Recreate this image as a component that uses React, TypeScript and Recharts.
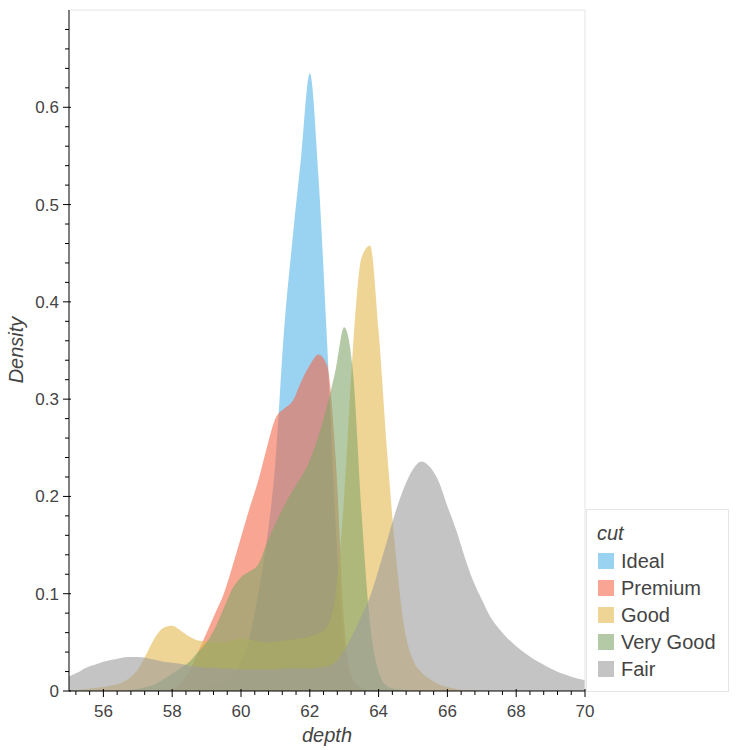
import React from "react";
import {
  ComposedChart,
  Area,
  XAxis,
  YAxis,
  ReferenceLine,
} from "recharts";

// depth grid (x) and KDE density per cut
const depth = [
  55, 55.25, 55.5, 55.75, 56, 56.25, 56.5, 56.75, 57, 57.25, 57.5, 57.75,
  58, 58.25, 58.5, 58.75, 59, 59.25, 59.5, 59.75, 60, 60.25, 60.5, 60.75,
  61, 61.25, 61.5, 61.75, 62, 62.25, 62.5, 62.75, 63, 63.25, 63.5, 63.75,
  64, 64.25, 64.5, 64.75, 65, 65.25, 65.5, 65.75, 66, 66.25, 66.5, 66.75,
  67, 67.25, 67.5, 67.75, 68, 68.25, 68.5, 68.75, 69, 69.25, 69.5, 69.75, 70,
];

const ideal = [
  0, 0, 0, 0, 0, 0, 0, 0, 0, 0, 0, 0,
  0, 0.001, 0.001, 0.002, 0.004, 0.006, 0.009, 0.014, 0.03, 0.055, 0.1, 0.155,
  0.235, 0.37, 0.465, 0.55, 0.635, 0.53, 0.36, 0.17, 0.045, 0.01, 0.003, 0.001,
  0, 0, 0, 0, 0, 0, 0, 0, 0, 0, 0, 0,
  0, 0, 0, 0, 0, 0, 0, 0, 0, 0, 0, 0, 0,
];

const premium = [
  0, 0, 0, 0, 0, 0, 0, 0, 0, 0, 0, 0,
  0.002, 0.008, 0.02, 0.04, 0.06, 0.08, 0.1, 0.128, 0.158, 0.188, 0.216, 0.25,
  0.28, 0.29, 0.298, 0.318, 0.335, 0.346, 0.335, 0.24, 0.07, 0.012, 0.003, 0.001,
  0, 0, 0, 0, 0, 0, 0, 0, 0, 0, 0, 0,
  0, 0, 0, 0, 0, 0, 0, 0, 0, 0, 0, 0, 0,
];

const good = [
  0, 0.001, 0.002, 0.003, 0.004, 0.006, 0.008, 0.013, 0.022, 0.038, 0.055, 0.065,
  0.067, 0.062, 0.056, 0.052, 0.051, 0.05, 0.05, 0.052, 0.054, 0.053, 0.051, 0.05,
  0.051, 0.052, 0.053, 0.054, 0.056, 0.059, 0.066, 0.1, 0.2, 0.35, 0.445, 0.458,
  0.37, 0.245, 0.14, 0.065, 0.032, 0.019, 0.012, 0.007, 0.004, 0.002, 0.001, 0.001,
  0, 0, 0, 0, 0, 0, 0, 0, 0, 0, 0, 0, 0,
];

const veryGood = [
  0, 0, 0, 0, 0, 0, 0, 0.001, 0.002, 0.004, 0.007, 0.012,
  0.018, 0.024, 0.03, 0.04, 0.05, 0.065, 0.085, 0.105, 0.117, 0.123, 0.13, 0.152,
  0.172, 0.19, 0.206, 0.22, 0.237, 0.262, 0.293, 0.33, 0.374, 0.33, 0.185, 0.07,
  0.02, 0.005, 0.002, 0.001, 0, 0, 0, 0, 0, 0, 0, 0,
  0, 0, 0, 0, 0, 0, 0, 0, 0, 0, 0, 0, 0,
];

const fair = [
  0.015, 0.019, 0.024, 0.027, 0.03, 0.032, 0.034, 0.035, 0.035, 0.034, 0.032, 0.03,
  0.029, 0.028, 0.026, 0.025, 0.024, 0.024, 0.023, 0.023, 0.022, 0.022, 0.022, 0.022,
  0.022, 0.023, 0.023, 0.023, 0.023, 0.024, 0.025, 0.03, 0.042, 0.058, 0.077, 0.097,
  0.125, 0.155, 0.185, 0.21, 0.228, 0.236, 0.23, 0.215, 0.19, 0.166, 0.138, 0.113,
  0.094, 0.076, 0.064, 0.054, 0.046, 0.039, 0.033, 0.028, 0.023, 0.019, 0.016, 0.013, 0.011,
];

const cuts = ["Ideal", "Premium", "Good", "Very Good", "Fair"];
const colors = ["#56B4E9", "#F4694B", "#E5B94F", "#82A569", "#9D9D9D"];
const seriesValues = [ideal, premium, good, veryGood, fair];

const xMajorTicks = [56, 58, 60, 62, 64, 66, 68, 70];
const yMajorTicks = [0, 0.1, 0.2, 0.3, 0.4, 0.5, 0.6];

// minor ticks every 0.4 on x and 0.02 on y
const xTicks: number[] = [];
for (let i = 0; i < 38; i++) xTicks.push(Math.round((55.2 + i * 0.4) * 10) / 10);
const yTicks: number[] = [];
for (let i = 0; i <= 34; i++) yTicks.push(Math.round(i * 2) / 100);

const data = depth.map((d, i) => {
  const row: Record<string, number> = { depth: d };
  cuts.forEach((c, k) => {
    row[c] = seriesValues[k][i];
  });
  return row;
});

const font = "'Liberation Sans', Arial, sans-serif";
const textColor = "#444444";

const isMajor = (v: number, majors: number[]) =>
  majors.some((m) => Math.abs(m - v) < 1e-6);

const XTick = (props: any) => {
  const { x, y, payload } = props;
  const major = isMajor(payload.value, xMajorTicks);
  return (
    <g>
      <line
        x1={x}
        x2={x}
        y1={major ? y - 2 : y}
        y2={major ? y + 6 : y + 4}
        stroke="#000"
      />
      {major && (
        <text
          x={x}
          y={y + 26}
          textAnchor="middle"
          fontFamily={font}
          fontSize={17}
          fill={textColor}
        >
          {payload.value}
        </text>
      )}
    </g>
  );
};

const YTick = (props: any) => {
  const { x, y, payload } = props;
  const major = isMajor(payload.value, yMajorTicks);
  return (
    <g>
      <line
        x1={major ? x - 6 : x - 4}
        x2={major ? x + 2 : x}
        y1={y}
        y2={y}
        stroke="#000"
      />
      {major && (
        <text
          x={x - 10}
          y={y + 6}
          textAnchor="end"
          fontFamily={font}
          fontSize={17}
          fill={textColor}
        >
          {payload.value}
        </text>
      )}
    </g>
  );
};

export default function App() {
  return (
    <div
      style={{
        position: "absolute",
        left: 0,
        top: 0,
        width: 750,
        height: 750,
        background: "#fff",
        fontFamily: font,
      }}
    >
      <ComposedChart
        width={750}
        height={750}
        data={data}
        margin={{ top: 10, right: 165, bottom: 29, left: 29 }}
      >
        <XAxis
          dataKey="depth"
          type="number"
          domain={[55, 70]}
          ticks={xTicks}
          interval={0}
          height={30}
          tickSize={0}
          tickMargin={0}
          tickLine={false}
          axisLine={{ stroke: "#000" }}
          tick={<XTick />}
          allowDataOverflow
        />
        <YAxis
          type="number"
          domain={[0, 0.7]}
          ticks={yTicks}
          interval={0}
          width={40}
          tickSize={0}
          tickMargin={0}
          tickLine={false}
          axisLine={{ stroke: "#000" }}
          tick={<YTick />}
          allowDataOverflow
        />
        <ReferenceLine y={0.7} stroke="#e5e5e5" />
        <ReferenceLine x={70} stroke="#e5e5e5" />
        {cuts.map((c, k) => (
          <Area
            key={c}
            type="monotone"
            dataKey={c}
            stroke="none"
            fill={colors[k]}
            fillOpacity={0.6}
            isAnimationActive={false}
            dot={false}
            activeDot={false}
          />
        ))}
      </ComposedChart>

      {/* axis titles */}
      <div
        style={{
          position: "absolute",
          left: 227,
          width: 200,
          top: 724,
          textAlign: "center",
          fontStyle: "italic",
          fontSize: 20,
          color: textColor,
        }}
      >
        depth
      </div>
      <div
        style={{
          position: "absolute",
          left: 16,
          top: 350,
          width: 200,
          marginLeft: -100,
          marginTop: -12,
          textAlign: "center",
          fontStyle: "italic",
          fontSize: 20,
          color: textColor,
          transform: "rotate(-90deg)",
          lineHeight: "24px",
        }}
      >
        Density
      </div>

      {/* legend */}
      <div
        style={{
          position: "absolute",
          left: 586,
          top: 509,
          width: 141,
          height: 181,
          border: "1px solid #e5e5e5",
          background: "#fff",
          color: textColor,
        }}
      >
        <div
          style={{
            position: "absolute",
            left: 10,
            top: 11,
            fontStyle: "italic",
            fontSize: 20,
            lineHeight: "24px",
          }}
        >
          cut
        </div>
        {cuts.map((c, k) => (
          <div
            key={c}
            style={{
              position: "absolute",
              left: 11,
              top: 39 + k * 27,
              height: 24,
              display: "flex",
              alignItems: "center",
              fontSize: 20,
              whiteSpace: "nowrap",
            }}
          >
            <span
              style={{
                display: "inline-block",
                width: 16,
                height: 16,
                background: colors[k],
                opacity: 0.6,
                marginRight: 7,
              }}
            />
            {c}
          </div>
        ))}
      </div>
    </div>
  );
}
